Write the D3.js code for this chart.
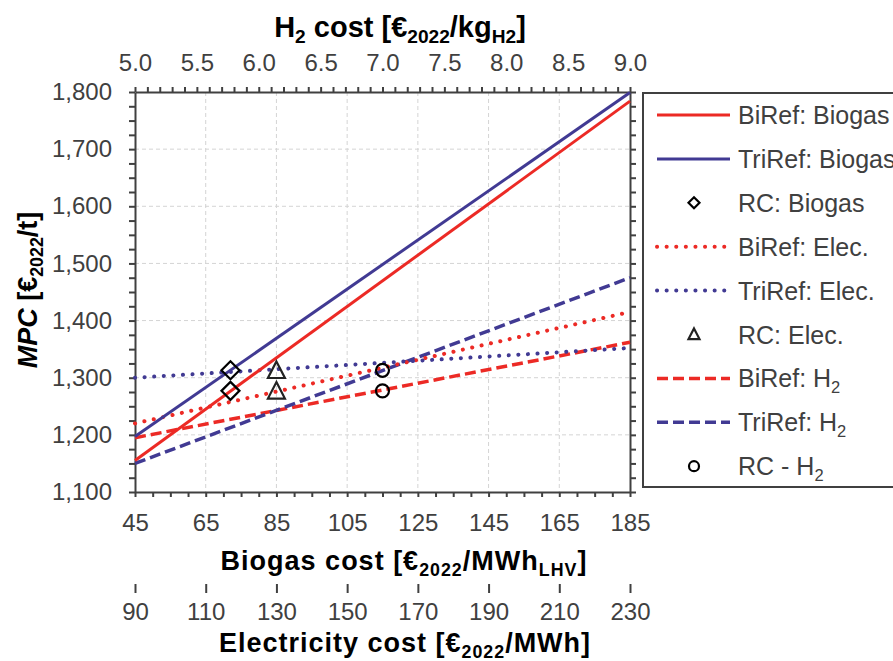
<!DOCTYPE html>
<html><head><meta charset="utf-8">
<script src="https://cdn.jsdelivr.net/npm/d3@7"></script>
<style>
body{margin:0;background:#fff;}
svg{display:block;font-family:"Liberation Sans",Arial,sans-serif;}
</style></head>
<body><svg id="c" width="893" height="661"></svg>
<script>
// ---- data ----
const biogasCost = [45, 185];
const biRefBiogas = [1155, 1784];
const triRefBiogas = [1197, 1799];
const elecCost = [90, 230];
const biRefElec = [1220, 1415];
const triRefElec = [1300, 1352];
const h2Cost = [5.0, 9.0];
const biRefH2 = [1195, 1362];
const triRefH2 = [1150, 1475];
const rcBiogasX = 72, rcBiogas = [1313, 1277];
const rcElecX = 130, rcElec = [1312, 1276];
const rcH2X = 7.0, rcH2 = [1313, 1277];
const yTicks = [1100,1200,1300,1400,1500,1600,1700,1800];
const bioTicks = [45,65,85,105,125,145,165,185];
const elecTicks = [90,110,130,150,170,190,210,230];
const h2Ticks = [5.0,5.5,6.0,6.5,7.0,7.5,8.0,8.5,9.0];

const RED = "#ec2a25", BLUE = "#413a93", AX = "#404040";
const L = 135, R = 630, T = 92, B = 492;
const svg = d3.select("#c");
const xBio = d3.scaleLinear().domain([45,185]).range([L,R]);
const xEl = d3.scaleLinear().domain([90,230]).range([L,R]);
const xH2 = d3.scaleLinear().domain([5,9]).range([L,R]);
const y = d3.scaleLinear().domain([1100,1800]).range([B,T]);

// grid
const g = svg.append("g");
g.selectAll(".gv").data(bioTicks.slice(1,-1)).join("line")
  .attr("x1",d=>xBio(d)).attr("x2",d=>xBio(d)).attr("y1",T).attr("y2",B)
  .attr("stroke","#d4d4d4").attr("stroke-width",1).attr("stroke-dasharray","4 3");
g.selectAll(".gh").data(yTicks.slice(1,-1)).join("line")
  .attr("y1",d=>y(d)).attr("y2",d=>y(d)).attr("x1",L).attr("x2",R)
  .attr("stroke","#d4d4d4").attr("stroke-width",1).attr("stroke-dasharray","4 3");

function styleAxis(sel){
  sel.selectAll("path,line").attr("stroke",AX).attr("stroke-width",2);
  sel.selectAll("text").attr("fill",AX).attr("font-size",24)
     .attr("font-family","\"Liberation Sans\",Arial,sans-serif");
}
// left
const yMinor = d3.range(1100,1801,25);
svg.append("g").attr("transform",`translate(${L},0)`)
  .call(d3.axisLeft(y).tickValues(yMinor).tickSize(6).tickSizeOuter(0).tickPadding(17)
    .tickFormat(d=> yTicks.includes(d) ? d3.format(",")(d) : ""))
  .call(styleAxis);
// right
svg.append("g").attr("transform",`translate(${R},0)`)
  .call(d3.axisRight(y).tickValues(yMinor).tickSize(6).tickSizeOuter(0).tickFormat(""))
  .call(styleAxis);
// bottom biogas
const bioMinor = d3.range(45,186,5);
svg.append("g").attr("transform",`translate(0,${B})`)
  .call(d3.axisBottom(xBio).tickValues(bioMinor).tickSize(5).tickSizeOuter(0).tickPadding(17)
    .tickFormat(d=> bioTicks.includes(d) ? d : ""))
  .call(styleAxis);
// top H2
const h2Minor = d3.range(50,91,1).map(d=>d/10);
svg.append("g").attr("transform",`translate(0,${T})`)
  .call(d3.axisTop(xH2).tickValues(h2Minor).tickSize(5).tickSizeOuter(0).tickPadding(16)
    .tickFormat(d=> h2Ticks.some(t=>Math.abs(t-d)<1e-9) ? d3.format(".1f")(d) : ""))
  .call(styleAxis);
// electricity axis
svg.append("g").attr("transform",`translate(0,584)`)
  .call(d3.axisBottom(xEl).tickValues(elecTicks).tickSize(9).tickSizeOuter(0).tickPadding(10))
  .call(styleAxis)
  .call(s=>s.select(".domain").attr("d",`M${L},593V584H${R}V593`).attr("fill","none"));

// rich text helper
function rich(parent, x, yv, parts, size, opts={}){
  const t = parent.append("text").attr("x",x).attr("y",yv).attr("font-size",size)
    .attr("font-weight",opts.bold?"bold":"normal").attr("fill",opts.fill||"#000")
    .attr("text-anchor",opts.anchor||"start");
  if(opts.ls) t.attr("letter-spacing",opts.ls);
  if(opts.transform) t.attr("transform",opts.transform);
  let sub=false;
  parts.forEach(p=>{
    const [txt,kind] = p;
    const ts = t.append("tspan").text(txt);
    if(kind==="sub"){ ts.attr("font-size",size*0.66); if(!sub){ts.attr("dy",size*0.22);} sub=true; }
    else { if(sub){ts.attr("dy",-size*0.22);} sub=false; if(kind==="i") ts.attr("font-style","italic"); }
  });
  return t;
}
rich(svg, 400, 37, [["H"],["2","sub"],[" cost [€"],["2022","sub"],["/kg"],["H2","sub"],["]"]], 29, {bold:true, anchor:"middle"});
rich(svg, 404, 570, [["Biogas cost [€"],["2022","sub"],["/MWh"],["LHV","sub"],["]"]], 27, {bold:true, anchor:"middle", ls:1});
rich(svg, 405, 652, [["Electricity cost [€"],["2022","sub"],["/MWh"],["]"]], 27, {bold:true, anchor:"middle", ls:1});
rich(svg, 0, 0, [["MPC","i"],[" [€"],["2022","sub"],["/t]"]], 27, {bold:true, anchor:"middle", transform:"translate(37,290) rotate(-90)"});

// lines
const series = [
  {name:"BiRef: Biogas", xs:biogasCost, sc:xBio, ys:biRefBiogas, color:RED, style:"solid"},
  {name:"TriRef: Biogas", xs:biogasCost, sc:xBio, ys:triRefBiogas, color:BLUE, style:"solid"},
  {name:"BiRef: Elec.", xs:elecCost, sc:xEl, ys:biRefElec, color:RED, style:"dot"},
  {name:"TriRef: Elec.", xs:elecCost, sc:xEl, ys:triRefElec, color:BLUE, style:"dot"},
  {name:"BiRef: H2", xs:h2Cost, sc:xH2, ys:biRefH2, color:RED, style:"dash"},
  {name:"TriRef: H2", xs:h2Cost, sc:xH2, ys:triRefH2, color:BLUE, style:"dash"},
];
function applyStyle(sel, s){
  sel.attr("stroke",s.color).attr("fill","none");
  if(s.style==="solid") sel.attr("stroke-width",3);
  if(s.style==="dot") sel.attr("stroke-width",4).attr("stroke-linecap","round").attr("stroke-dasharray","0.1 9.5");
  if(s.style==="dash") sel.attr("stroke-width",3.5).attr("stroke-dasharray","11 5");
}
const lineG = svg.append("g");
// draw order: dashed, dotted, solid
["dash","dot","solid"].forEach(st=>{
  series.filter(s=>s.style===st).forEach(s=>{
    const pts = s.xs.map((xv,i)=>[s.sc(xv), y(s.ys[i])]);
    lineG.append("path").attr("d", d3.line()(pts)).call(applyStyle, s);
  });
});

// markers
function marker(parent, type, cx, cy, sz){
  const m = parent.append("path").attr("fill","none").attr("stroke","#000").attr("stroke-width",2.2)
    .attr("stroke-linejoin","miter");
  if(type==="diamond") m.attr("d",`M${cx},${cy-sz/2}L${cx+sz/2},${cy}L${cx},${cy+sz/2}L${cx-sz/2},${cy}Z`);
  if(type==="tri") m.attr("d",`M${cx},${cy-sz*0.55}L${cx+sz/2},${cy+sz*0.42}L${cx-sz/2},${cy+sz*0.42}Z`).attr("stroke","#222");
  if(type==="circle") m.attr("d",d3.arc()({innerRadius:0,outerRadius:sz/2,startAngle:0,endAngle:2*Math.PI})).attr("transform",`translate(${cx},${cy})`);
}
rcBiogas.forEach(v=>marker(svg,"diamond",xBio(rcBiogasX),y(v),18));
rcElec.forEach(v=>marker(svg,"tri",xEl(rcElecX),y(v),17));
rcH2.forEach(v=>marker(svg,"circle",xH2(rcH2X),y(v),13));

// legend
const lg = svg.append("g");
lg.append("rect").attr("x",643).attr("y",93).attr("width",270).attr("height",394)
  .attr("fill","#fff").attr("stroke",AX).attr("stroke-width",2);
const legendItems = [
  {label:[["BiRef: Biogas"]], s:series[0]},
  {label:[["TriRef: Biogas"]], s:series[1]},
  {label:[["RC: Biogas"]], m:"diamond"},
  {label:[["BiRef: Elec."]], s:series[2]},
  {label:[["TriRef: Elec."]], s:series[3]},
  {label:[["RC: Elec."]], m:"tri"},
  {label:[["BiRef: H"],["2","sub"]], s:series[4]},
  {label:[["TriRef: H"],["2","sub"]], s:series[5]},
  {label:[["RC - H"],["2","sub"]], m:"circle"},
];
legendItems.forEach((it,i)=>{
  const cy = 115 + i*43.9;
  if(it.s){ lg.append("line").attr("x1",657).attr("x2",730).attr("y1",cy).attr("y2",cy).call(applyStyle,it.s); }
  else marker(lg, it.m, 694, cy, it.m==="circle"?10:11);
  rich(lg, 738, cy+9, it.label, 25, {fill:AX});
});
</script></body></html>
